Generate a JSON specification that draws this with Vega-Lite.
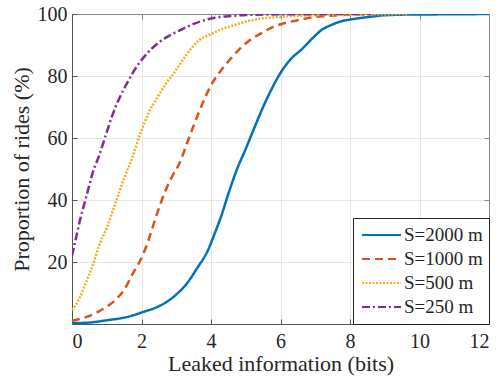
{
  "$schema": "https://vega.github.io/schema/vega-lite/v6.json",
  "width": 417,
  "height": 310,
  "autosize": {"type": "none"},
  "padding": {"left": 72, "top": 14, "right": 14, "bottom": 52},
  "background": "white",
  "config": {
    "font": "Liberation Serif",
    "view": {"stroke": null},
    "axis": {"labelFont": "Liberation Serif", "titleFont": "Liberation Serif", "labelColor": "#262626", "titleColor": "#262626", "titleFontWeight": "normal", "labelFontSize": 20, "titleFontSize": 22, "gridColor": "#e6e6e6", "gridWidth": 1, "domainColor": "#555555", "tickColor": "#555555"},
    "legend": {"labelFont": "Liberation Serif", "labelFontSize": 19, "labelColor": "#262626"}
  },
  "data": {"values": [
    {"S": "S=2000 m", "x": 0, "y": 0.3}, {"S": "S=2000 m", "x": 0.4, "y": 0.4}, {"S": "S=2000 m", "x": 1.0, "y": 1.2}, {"S": "S=2000 m", "x": 1.6, "y": 2.3}, {"S": "S=2000 m", "x": 2.0, "y": 3.7}, {"S": "S=2000 m", "x": 2.6, "y": 6.3}, {"S": "S=2000 m", "x": 3.0, "y": 9.5}, {"S": "S=2000 m", "x": 3.3, "y": 13}, {"S": "S=2000 m", "x": 3.6, "y": 18}, {"S": "S=2000 m", "x": 3.9, "y": 23.5}, {"S": "S=2000 m", "x": 4.1, "y": 29}, {"S": "S=2000 m", "x": 4.3, "y": 35}, {"S": "S=2000 m", "x": 4.5, "y": 42}, {"S": "S=2000 m", "x": 4.75, "y": 50}, {"S": "S=2000 m", "x": 5.0, "y": 56.5}, {"S": "S=2000 m", "x": 5.2, "y": 62}, {"S": "S=2000 m", "x": 5.5, "y": 70}, {"S": "S=2000 m", "x": 5.8, "y": 77}, {"S": "S=2000 m", "x": 6.0, "y": 81}, {"S": "S=2000 m", "x": 6.3, "y": 85.5}, {"S": "S=2000 m", "x": 6.6, "y": 88.5}, {"S": "S=2000 m", "x": 6.95, "y": 92.5}, {"S": "S=2000 m", "x": 7.2, "y": 95}, {"S": "S=2000 m", "x": 7.45, "y": 96.4}, {"S": "S=2000 m", "x": 7.8, "y": 97.8}, {"S": "S=2000 m", "x": 8.0, "y": 98.2}, {"S": "S=2000 m", "x": 8.5, "y": 99.0}, {"S": "S=2000 m", "x": 9.0, "y": 99.6}, {"S": "S=2000 m", "x": 9.9, "y": 99.85}, {"S": "S=2000 m", "x": 11, "y": 99.9}, {"S": "S=2000 m", "x": 12, "y": 100},
    {"S": "S=1000 m", "x": 0, "y": 1}, {"S": "S=1000 m", "x": 0.4, "y": 2.2}, {"S": "S=1000 m", "x": 0.76, "y": 4}, {"S": "S=1000 m", "x": 1.25, "y": 7.8}, {"S": "S=1000 m", "x": 1.5, "y": 11}, {"S": "S=1000 m", "x": 1.73, "y": 15.9}, {"S": "S=1000 m", "x": 2.02, "y": 21.8}, {"S": "S=1000 m", "x": 2.2, "y": 27}, {"S": "S=1000 m", "x": 2.4, "y": 34}, {"S": "S=1000 m", "x": 2.69, "y": 43}, {"S": "S=1000 m", "x": 2.9, "y": 48}, {"S": "S=1000 m", "x": 3.1, "y": 52}, {"S": "S=1000 m", "x": 3.3, "y": 58}, {"S": "S=1000 m", "x": 3.5, "y": 64}, {"S": "S=1000 m", "x": 3.75, "y": 71}, {"S": "S=1000 m", "x": 4.0, "y": 77}, {"S": "S=1000 m", "x": 4.3, "y": 82}, {"S": "S=1000 m", "x": 4.6, "y": 86}, {"S": "S=1000 m", "x": 5.05, "y": 91}, {"S": "S=1000 m", "x": 5.4, "y": 93.5}, {"S": "S=1000 m", "x": 5.7, "y": 95.4}, {"S": "S=1000 m", "x": 6.1, "y": 97}, {"S": "S=1000 m", "x": 6.5, "y": 98}, {"S": "S=1000 m", "x": 6.9, "y": 98.9}, {"S": "S=1000 m", "x": 7.4, "y": 99.4}, {"S": "S=1000 m", "x": 7.8, "y": 99.7}, {"S": "S=1000 m", "x": 8.6, "y": 100},
    {"S": "S=500 m", "x": 0, "y": 4.5}, {"S": "S=500 m", "x": 0.2, "y": 8}, {"S": "S=500 m", "x": 0.39, "y": 13}, {"S": "S=500 m", "x": 0.6, "y": 19}, {"S": "S=500 m", "x": 0.77, "y": 25}, {"S": "S=500 m", "x": 1.0, "y": 31}, {"S": "S=500 m", "x": 1.25, "y": 39}, {"S": "S=500 m", "x": 1.5, "y": 47}, {"S": "S=500 m", "x": 1.73, "y": 53.5}, {"S": "S=500 m", "x": 1.97, "y": 61.5}, {"S": "S=500 m", "x": 2.2, "y": 68}, {"S": "S=500 m", "x": 2.45, "y": 73}, {"S": "S=500 m", "x": 2.7, "y": 77.5}, {"S": "S=500 m", "x": 3.0, "y": 82}, {"S": "S=500 m", "x": 3.3, "y": 87}, {"S": "S=500 m", "x": 3.65, "y": 91.5}, {"S": "S=500 m", "x": 4.0, "y": 93.5}, {"S": "S=500 m", "x": 4.4, "y": 95.5}, {"S": "S=500 m", "x": 4.7, "y": 96.5}, {"S": "S=500 m", "x": 5.1, "y": 97.8}, {"S": "S=500 m", "x": 5.5, "y": 98.6}, {"S": "S=500 m", "x": 6.0, "y": 99.1}, {"S": "S=500 m", "x": 7.0, "y": 99.6}, {"S": "S=500 m", "x": 8.0, "y": 99.8}, {"S": "S=500 m", "x": 9.7, "y": 100},
    {"S": "S=250 m", "x": 0, "y": 22}, {"S": "S=250 m", "x": 0.12, "y": 28}, {"S": "S=250 m", "x": 0.24, "y": 34}, {"S": "S=250 m", "x": 0.36, "y": 39}, {"S": "S=250 m", "x": 0.48, "y": 44}, {"S": "S=250 m", "x": 0.6, "y": 49}, {"S": "S=250 m", "x": 0.77, "y": 54}, {"S": "S=250 m", "x": 0.96, "y": 60.5}, {"S": "S=250 m", "x": 1.15, "y": 67}, {"S": "S=250 m", "x": 1.35, "y": 72.5}, {"S": "S=250 m", "x": 1.6, "y": 78}, {"S": "S=250 m", "x": 1.83, "y": 82.5}, {"S": "S=250 m", "x": 2.1, "y": 86.5}, {"S": "S=250 m", "x": 2.5, "y": 90.8}, {"S": "S=250 m", "x": 2.8, "y": 93}, {"S": "S=250 m", "x": 3.15, "y": 95}, {"S": "S=250 m", "x": 3.5, "y": 96.8}, {"S": "S=250 m", "x": 3.75, "y": 97.8}, {"S": "S=250 m", "x": 4.1, "y": 98.8}, {"S": "S=250 m", "x": 4.5, "y": 99.3}, {"S": "S=250 m", "x": 5.0, "y": 99.7}, {"S": "S=250 m", "x": 6.0, "y": 99.9}, {"S": "S=250 m", "x": 7.0, "y": 99.95}, {"S": "S=250 m", "x": 8.6, "y": 100}
  ]},
  "layer": [
    {
      "mark": {"type": "line", "strokeWidth": 2.5, "clip": true, "interpolate": "monotone"},
      "encoding": {
        "x": {"field": "x", "type": "quantitative", "scale": {"domain": [0, 12], "nice": false, "zero": false},
          "axis": {"title": "Leaked information (bits)", "values": [0, 2, 4, 6, 8, 10, 12], "tickSize": -5, "labelPadding": 12, "titlePadding": 2, "domainWidth": 1}},
        "y": {"field": "y", "type": "quantitative", "scale": {"domain": [0, 100], "nice": false},
          "axis": {"title": "Proportion of rides (%)", "values": [20, 40, 60, 80, 100], "tickSize": -5, "labelPadding": 10, "titlePadding": 4, "domainWidth": 1}},
        "color": {"field": "S", "type": "nominal",
          "scale": {"domain": ["S=2000 m", "S=1000 m", "S=500 m", "S=250 m"], "range": ["#0072BD", "#D95319", "#EDB120", "#7E2F8E"]},
          "legend": {"title": null, "orient": "bottom-right", "offset": 0, "symbolType": "stroke", "symbolSize": 1521, "symbolStrokeWidth": 2, "symbolOffset": 2, "fillColor": "white", "strokeColor": "#262626", "padding": 6, "clipHeight": 22, "rowPadding": 2, "labelOffset": 2}},
        "strokeDash": {"field": "S", "type": "nominal",
          "scale": {"domain": ["S=2000 m", "S=1000 m", "S=500 m", "S=250 m"], "range": [[1, 0], [8, 5], [2, 1.5], [8, 3, 2, 3]]},
          "legend": null},
        "order": {"field": "x", "type": "quantitative"}
      }
    },
    {
      "mark": {"type": "point", "opacity": 0},
      "encoding": {
        "x": {"field": "x", "type": "quantitative", "scale": {"domain": [0, 12], "nice": false, "zero": false},
          "axis": {"orient": "top", "title": null, "labels": false, "grid": false, "values": [0, 2, 4, 6, 8, 10, 12], "tickSize": -5, "domainColor": "#888888", "tickColor": "#888888"}},
        "y": {"field": "y", "type": "quantitative", "scale": {"domain": [0, 100], "nice": false},
          "axis": {"orient": "right", "title": null, "labels": false, "grid": false, "values": [0, 20, 40, 60, 80, 100], "tickSize": -5, "domainColor": "#888888", "tickColor": "#888888"}}
      }
    }
  ],
  "resolve": {"axis": {"x": "independent", "y": "independent"}}
}
